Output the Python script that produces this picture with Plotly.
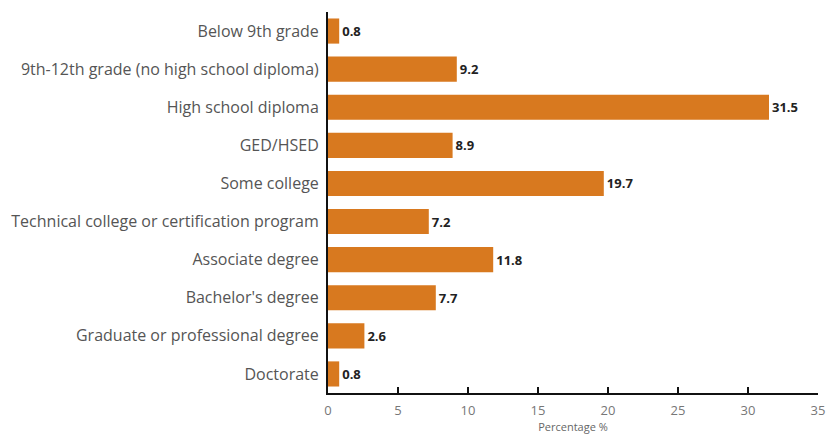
import plotly.graph_objects as go

categories = [
    "Below 9th grade",
    "9th-12th grade (no high school diploma)",
    "High school diploma",
    "GED/HSED",
    "Some college",
    "Technical college or certification program",
    "Associate degree",
    "Bachelor's degree",
    "Graduate or professional degree",
    "Doctorate",
]
values = [0.8, 9.2, 31.5, 8.9, 19.7, 7.2, 11.8, 7.7, 2.6, 0.8]
x_ticks = [0, 5, 10, 15, 20, 25, 30, 35]

fig = go.Figure(
    go.Bar(
        x=values,
        y=categories,
        orientation="h",
        marker=dict(color="#D8791F", line=dict(width=0)),
        text=[f"{v:.1f}" for v in values],
        textposition="outside",
        textfont=dict(family="Open Sans", size=13, color="#222222", weight="bold"),
        cliponaxis=False,
    )
)

fig.update_layout(
    width=835,
    height=436,
    margin=dict(l=328, r=17, t=12, b=43),
    paper_bgcolor="white",
    plot_bgcolor="white",
    bargap=0.34,
    showlegend=False,
    font=dict(family="Open Sans", color="#555555"),
)

fig.update_xaxes(
    range=[0, 35],
    tickvals=x_ticks,
    ticks="inside",
    ticklen=6,
    tickwidth=1.5,
    tickcolor="#111111",
    showline=True,
    linecolor="#111111",
    linewidth=2,
    showgrid=False,
    zeroline=False,
    automargin=False,
    ticklabelstandoff=4,
    tickfont=dict(size=13, color="#777777"),
    title=dict(text="Percentage %", font=dict(size=11, color="#666666"), standoff=6),
)

fig.update_yaxes(
    categoryorder="array",
    categoryarray=categories,
    autorange="reversed",
    showline=True,
    linecolor="#111111",
    linewidth=2,
    showgrid=False,
    ticks="",
    automargin=False,
    ticklabelstandoff=4,
    tickfont=dict(size=16, color="#555555"),
)

fig.write_html("out.html")
